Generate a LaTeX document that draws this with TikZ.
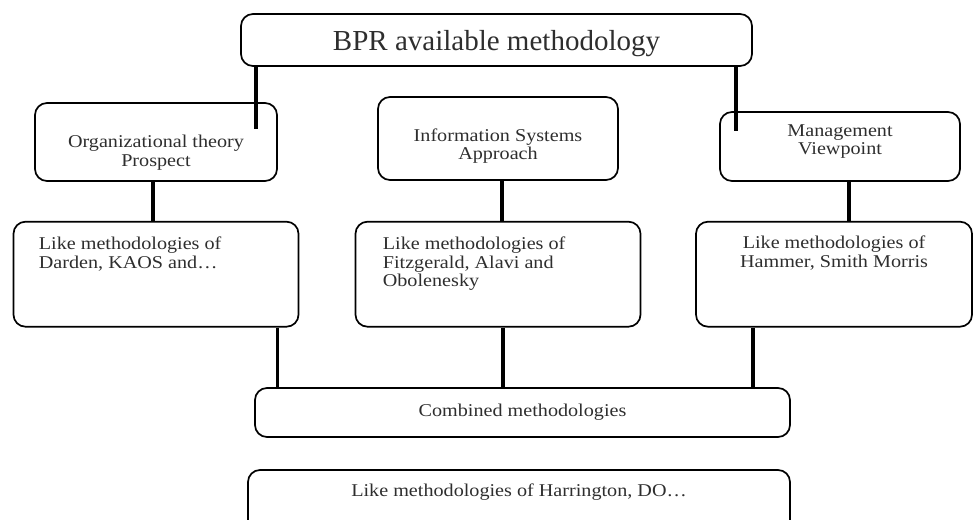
\documentclass[tikz,border=0pt]{standalone}
\usepackage{fontspec}
\setmainfont{Liberation Serif}[FakeStretch=1.12]
\newfontfamily\titlefont{Liberation Serif}
\usetikzlibrary{positioning}

\begin{document}
\begin{tikzpicture}[
        x=1pt, y=-1pt,
        every node/.style={font=\fontsize{18}{18.5}\selectfont, text=black!82},
        box/.style={draw, line width=1.7pt, rounded corners=12pt},
        txt/.style={inner sep=0pt, align=left},
        conn/.style={line width=3.6pt}
    ]
    \useasboundingbox (0,0) rectangle (973,519);

    \node[box, minimum width=511pt, minimum height=52pt, text height=22pt, text depth=0pt,
          font=\titlefont\fontsize{29}{30}\selectfont] (bpr) at (496.5,40) {BPR available methodology};
    \node[box, minimum width=242pt, minimum height=78pt] (org) at (156,142) {};
    \node[box, minimum width=240pt, minimum height=83pt] (isa) at (498,138.5) {};
    \node[box, minimum width=240pt, minimum height=69pt] (mgmt) at (840,146.5) {};
    \node[txt, align=center, below=33pt of org.north] (orgt) {Organizational theory\\Prospect};
    \node[txt, align=center, below=32pt of isa.north] (isat) {Information Systems\\Approach};
    \node[txt, align=center, below=13pt of mgmt.north] (mgmtt) {Management\\Viewpoint};

    \node[box, minimum width=285pt, minimum height=105pt, below=39pt of org] (like1) {};
    \node[box, minimum width=285pt, minimum height=105pt, below=40pt of isa] (like2) {};
    \node[box, minimum width=276pt, minimum height=105pt, below=39pt of mgmt, xshift=-6pt] (like3) {};
    \node[txt, below right=16pt and 26pt of like1.north west] (like1t) {Like methodologies of\\Darden, KAOS and…};
    \node[txt, below right=16pt and 28pt of like2.north west] (like2t) {Like methodologies of\\Fitzgerald, Alavi and\\Obolenesky};
    \node[txt, align=center, below=15pt of like3.north] (like3t) {Like methodologies of\\Hammer, Smith Morris};

    \node[box, minimum width=535pt, minimum height=49pt] (comb) at (522.5,412.5) {Combined methodologies};
    \node[box, minimum width=542pt, minimum height=70pt] (harr) at (519,505) {};
    \node[txt, below=14pt of harr.north] (harrt) {Like methodologies of Harrington, DO…};

    % connectors
    \coordinate (orgtip) at ([xshift=-22pt,yshift=-27pt]org.north east);
    \coordinate (mgmttip) at ([xshift=17pt,yshift=-20pt]mgmt.north west);
    \draw[conn] (bpr.south -| orgtip) -- (orgtip);
    \draw[conn] (bpr.south -| mgmttip) -- (mgmttip);

    \coordinate (orgb) at ([xshift=-3pt]org.south);
    \coordinate (isab) at ([xshift=4pt]isa.south);
    \coordinate (mgmtb) at ([xshift=9pt]mgmt.south);
    \draw[conn] (orgb) -- (orgb |- like1.north);
    \draw[conn] (isab) -- (isab |- like2.north);
    \draw[conn] (mgmtb) -- (mgmtb |- like3.north);

    \coordinate (l1b) at ([xshift=-22pt]like1.south east);
    \coordinate (l2b) at ([xshift=5pt]like2.south);
    \coordinate (l3b) at ([xshift=58pt]like3.south west);
    \foreach \c in {l1b,l2b,l3b}
        \draw[conn] (\c) -- (\c |- comb.north);
\end{tikzpicture}
\end{document}
